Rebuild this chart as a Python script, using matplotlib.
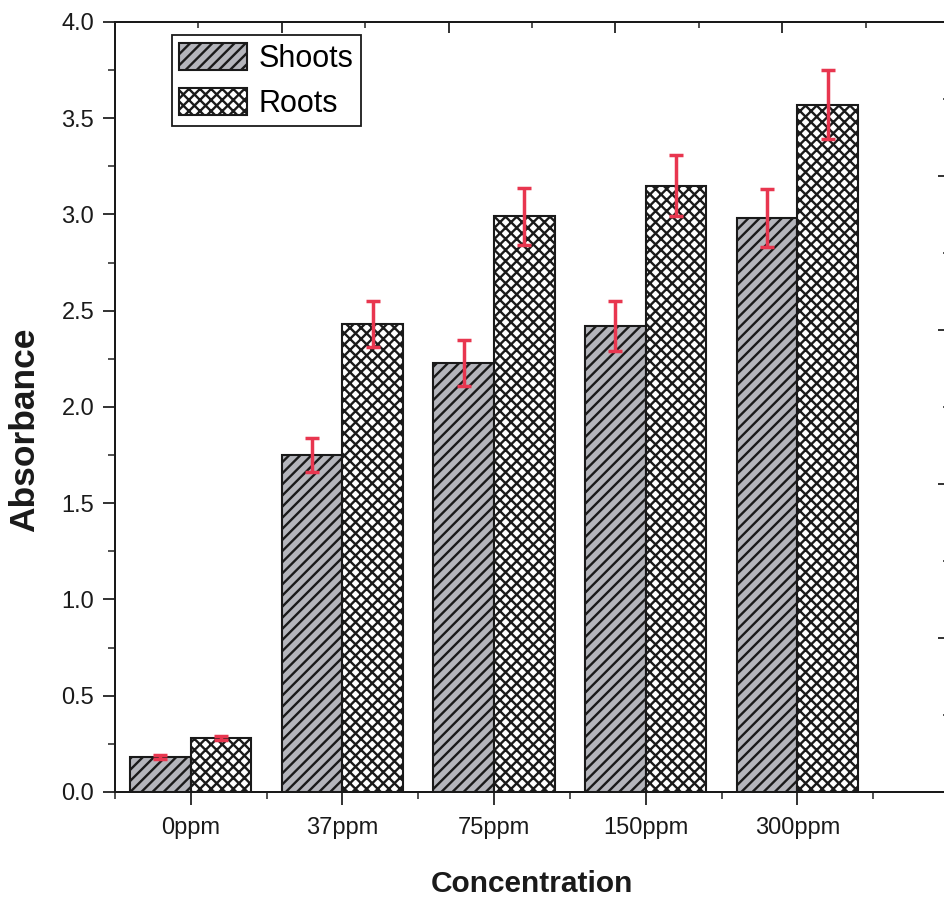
import matplotlib
matplotlib.use("Agg")
import matplotlib.pyplot as plt
import numpy as np
from matplotlib.ticker import MultipleLocator, FixedLocator

categories = ["0ppm", "37ppm", "75ppm", "150ppm", "300ppm"]
shoots = [0.18, 1.75, 2.23, 2.42, 2.98]
shoots_err = [0.01, 0.09, 0.12, 0.13, 0.15]
roots = [0.28, 2.43, 2.99, 3.15, 3.57]
roots_err = [0.01, 0.12, 0.15, 0.16, 0.18]

plt.rcParams['font.family'] = ['Liberation Sans', 'DejaVu Sans']
plt.rcParams['hatch.linewidth'] = 1.7
plt.rcParams['hatch.color'] = '#222222'

fig = plt.figure(figsize=(9.44, 9.01), dpi=100)
ax = fig.add_axes([0.1218, 0.121, 0.8835, 0.8546])

x = np.arange(len(categories))
w = 0.4
err_color = '#e8364f'

b1 = ax.bar(x - w/2, shoots, w, color='#b4b5bb', edgecolor='#1a1a1a',
            linewidth=1.5, hatch='///', label='Shoots', zorder=2)
b2 = ax.bar(x + w/2, roots, w, color='white', edgecolor='#1a1a1a',
            linewidth=1.5, hatch='xxx', label='Roots', zorder=2)
ax.errorbar(x - w/2, shoots, yerr=shoots_err, fmt='none', ecolor=err_color,
            elinewidth=2.5, capsize=5, capthick=2.5, zorder=3)
ax.errorbar(x + w/2, roots, yerr=roots_err, fmt='none', ecolor=err_color,
            elinewidth=2.5, capsize=5, capthick=2.5, zorder=3)

ax.set_xlim(-0.5, 5.0)
ax.set_ylim(0, 4.0)
ax.set_xticks(x)
ax.set_xticklabels(categories)
ax.xaxis.set_minor_locator(FixedLocator(np.arange(-0.5, 5.0, 1.0)))
ax.yaxis.set_major_locator(MultipleLocator(0.5))
ax.yaxis.set_minor_locator(MultipleLocator(0.25))
ax.yaxis.set_major_formatter(matplotlib.ticker.FormatStrFormatter('%.1f'))

ax.tick_params(axis='both', which='major', direction='out', length=9, width=1.3,
               color='#222222')
ax.tick_params(axis='both', which='minor', direction='out', length=5, width=1.1,
               color='#222222')
ax.tick_params(axis='y', which='major', labelsize=17, pad=6, labelcolor='#1a1a1a')
ax.tick_params(axis='x', which='major', labelsize=17, pad=9, labelcolor='#1a1a1a')

for s in ax.spines.values():
    s.set_linewidth(1.4)
    s.set_color('#1a1a1a')

ax.set_ylabel('Absorbance', fontsize=25.5, fontweight='bold', color='#1a1a1a')
ax.yaxis.set_label_coords(-0.088, 0.47)
ax.set_xlabel('Concentration', fontsize=21.5, fontweight='bold', color='#1a1a1a')
ax.xaxis.set_label_coords(0.5, -0.101)

# secondary (unlabelled) axes on top and right
axr = ax.twinx()
axr.set_ylim(0, 5)
axr.yaxis.set_major_locator(MultipleLocator(1))
axr.yaxis.set_minor_locator(MultipleLocator(0.5))
axr.tick_params(axis='y', which='major', direction='in', length=8, width=1.3,
                labelright=False, color='#222222')
axr.tick_params(axis='y', which='minor', direction='in', length=4, width=1.1,
                color='#222222')
axt = ax.twiny()
axt.set_xlim(0, 5)
axt.xaxis.set_major_locator(MultipleLocator(1))
axt.xaxis.set_minor_locator(MultipleLocator(0.5))
axt.tick_params(axis='x', which='major', direction='in', length=8, width=1.3,
                labeltop=False, color='#222222')
axt.tick_params(axis='x', which='minor', direction='in', length=4, width=1.1,
                color='#222222')
for a in (axr, axt):
    for s in a.spines.values():
        s.set_linewidth(1.4)
        s.set_color('#1a1a1a')

leg = ax.legend(loc='upper left', bbox_to_anchor=(0.068, 0.983), fontsize=22,
                frameon=True, fancybox=False, framealpha=1, edgecolor='#1a1a1a',
                borderaxespad=0, borderpad=0.25, handlelength=2.2,
                handleheight=1.0, handletextpad=0.4, labelspacing=0.45)
leg.get_frame().set_linewidth(1.3)
leg.set_zorder(5)

fig.savefig('out.png', dpi=100, facecolor='white')
